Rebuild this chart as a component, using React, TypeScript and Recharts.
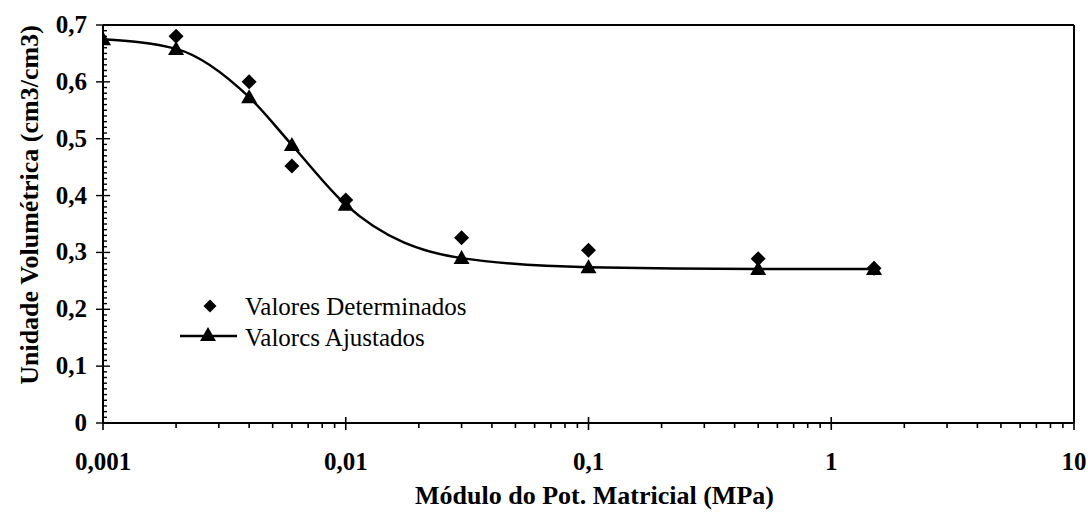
import React from "react";
import {
  ComposedChart,
  Line,
  Scatter,
  XAxis,
  YAxis,
  ReferenceLine,
  Legend,
} from "recharts";

const PRESSURE_DET = [0.002, 0.004, 0.006, 0.01, 0.03, 0.1, 0.5, 1.5];
const THETA_DET = [0.68, 0.6, 0.452, 0.392, 0.326, 0.304, 0.289, 0.272];

// fitted curve
const PRESSURE_ADJ = [0.001, 0.002, 0.004, 0.006, 0.01, 0.03, 0.1, 0.5, 1.5];
const THETA_ADJ = [0.675, 0.658, 0.573, 0.489, 0.384, 0.29, 0.274, 0.271, 0.271];

const X_MAJOR = [0.001, 0.01, 0.1, 1, 10];
const X_MINOR_STEPS = [2, 3, 4, 5, 6, 7, 8, 9];
const Y_MAJOR = [0, 0.1, 0.2, 0.3, 0.4, 0.5, 0.6, 0.7];
const Y_MINOR_STEP = 0.01;

const LABEL_DET = "Valores Determinados";
const LABEL_ADJ = "Valorcs Ajustados";
const X_TITLE = "Módulo do Pot. Matricial (MPa)";
const Y_TITLE = "Unidade Volumétrica (cm3/cm3)";

const FONT = "Liberation Serif, DejaVu Serif, Noto Serif, serif";

const detData = PRESSURE_DET.map((x, i) => ({ x, y: THETA_DET[i] }));
const adjData = PRESSURE_ADJ.map((x, i) => ({ x, y: THETA_ADJ[i] }));

const xTicks: number[] = [];
X_MAJOR.forEach((m, i) => {
  xTicks.push(m);
  if (i < X_MAJOR.length - 1) X_MINOR_STEPS.forEach((s) => xTicks.push(+(s * m).toPrecision(6)));
});
const yTicks: number[] = [];
for (let i = 0; i <= Math.round(0.7 / Y_MINOR_STEP); i++) yTicks.push(+(i * Y_MINOR_STEP).toFixed(2));

const fmt = (v: number) => String(v).replace(".", ",");

const diamondPath = (cx: number, cy: number, r: number) =>
  `M${cx},${cy - r}L${cx + r},${cy}L${cx},${cy + r}L${cx - r},${cy}Z`;
const trianglePath = (cx: number, cy: number, r: number) =>
  `M${cx},${cy - r}L${cx + r},${cy + r * 0.75}L${cx - r},${cy + r * 0.75}Z`;

const textStyle = { fontFamily: FONT, fill: "#000" };

const XTick = (props: any) => {
  const { x, y, payload } = props;
  const v = payload.value;
  const major = X_MAJOR.includes(v);
  return (
    <g>
      <line x1={x} x2={x} y1={major ? y - 6 : y} y2={major ? y + 7 : y + 5} stroke="#000" strokeWidth={1.6} />
      {major && (
        <text x={x} y={y + 47} textAnchor="middle" style={{ ...textStyle, fontWeight: "bold", fontSize: 25 }}>
          {fmt(v)}
        </text>
      )}
    </g>
  );
};

const YTick = (props: any) => {
  const { x, y, payload } = props;
  const v = payload.value;
  const major = Y_MAJOR.some((m) => Math.abs(m - v) < 1e-6);
  return (
    <g>
      <line x1={major ? x - 7 : x - 1} x2={major ? x + 7 : x + 4} y1={y} y2={y} stroke="#000" strokeWidth={1.4} />
      {major && (
        <text x={x - 16} y={y + 8} textAnchor="end" style={{ ...textStyle, fontWeight: "bold", fontSize: 25 }}>
          {fmt(v)}
        </text>
      )}
    </g>
  );
};

const XTitle = (props: any) => {
  const { viewBox } = props;
  const cx = viewBox.x + viewBox.width / 2 + 6;
  return (
    <text x={cx} y={viewBox.y + 81} textAnchor="middle" style={{ ...textStyle, fontWeight: "bold", fontSize: 26 }}>
      {X_TITLE}
    </text>
  );
};

const YTitle = () => {
  const cx = 38;
  const cy = 205;
  return (
    <text
      x={cx}
      y={cy}
      transform={`rotate(-90, ${cx}, ${cy})`}
      textAnchor="middle"
      style={{ ...textStyle, fontWeight: "bold", fontSize: 26 }}
    >
      {Y_TITLE}
    </text>
  );
};

const renderLegend = () => (
  <svg width={320} height={70}>
    <path d={diamondPath(35, 18, 6.5)} fill="#000" />
    <text x={70} y={27} style={{ ...textStyle, fontSize: 25 }}>
      {LABEL_DET}
    </text>
    <line x1={5} x2={62} y1={48} y2={48} stroke="#000" strokeWidth={2.5} />
    <path d={trianglePath(33, 47, 8)} fill="#000" />
    <text x={70} y={58} style={{ ...textStyle, fontSize: 25 }}>
      {LABEL_ADJ}
    </text>
  </svg>
);

export default function App() {
  return (
    <div style={{ position: "absolute", left: 0, top: 0, width: 1088, height: 513, background: "#fff" }}>
      <ComposedChart width={1088} height={513} margin={{ top: 25, right: 14, bottom: 0, left: 0 }}>
        <XAxis
          dataKey="x"
          type="number"
          scale="log"
          domain={[0.001, 10]}
          ticks={xTicks}
          interval={0}
          allowDataOverflow
          tickSize={0}
          tickMargin={0}
          tickLine={false}
          tick={<XTick />}
          height={90}
          axisLine={{ stroke: "#000", strokeWidth: 2 }}
          label={<XTitle />}
        />
        <YAxis
          dataKey="y"
          type="number"
          domain={[0, 0.7]}
          ticks={yTicks}
          interval={0}
          allowDataOverflow
          tickSize={0}
          tickMargin={0}
          tickLine={false}
          tick={<YTick />}
          width={103}
          axisLine={{ stroke: "#000", strokeWidth: 2 }}
          label={<YTitle />}
        />
        <ReferenceLine y={0.7} stroke="#000" strokeWidth={2} ifOverflow="visible" />
        <ReferenceLine x={10} stroke="#000" strokeWidth={2} ifOverflow="visible" />
        <Legend
          layout="vertical"
          align="center"
          verticalAlign="middle"
          content={renderLegend}
          wrapperStyle={{ left: 175, top: 288, width: 320, height: 70 }}
        />
        <Line
          data={adjData}
          dataKey="y"
          type="monotone"
          stroke="#000"
          strokeWidth={2.5}
          isAnimationActive={false}
          dot={(p: any) => <path key={`t${p.index}`} d={trianglePath(p.cx, p.cy, 8)} fill="#000" />}
          activeDot={false}
        />
        <Scatter
          data={detData}
          dataKey="y"
          fill="#000"
          isAnimationActive={false}
          shape={(p: any) => <path d={diamondPath(p.cx, p.cy, 7.5)} fill="#000" />}
        />
      </ComposedChart>
    </div>
  );
}
